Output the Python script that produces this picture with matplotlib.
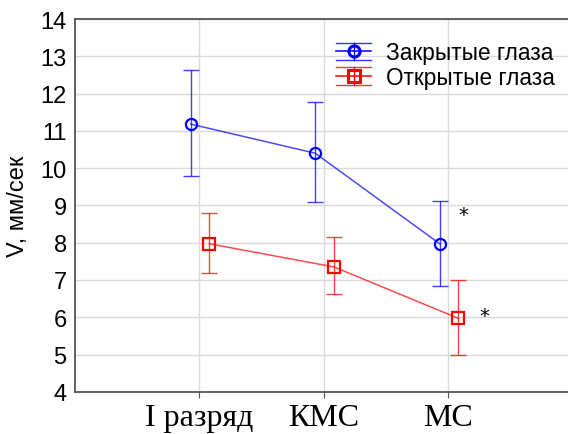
import numpy as np
import matplotlib.pyplot as plt
from matplotlib.legend_handler import HandlerBase
from matplotlib.lines import Line2D

groups = ['I разряд', 'КМС', 'МС']

closed_mean = [11.18, 10.4, 7.97]
closed_low = [9.8, 9.08, 6.85]
closed_high = [12.62, 11.78, 9.12]

open_mean = [7.97, 7.35, 5.97]
open_low = [7.18, 6.62, 5.0]
open_high = [8.8, 8.15, 7.0]

x = np.arange(1, len(groups) + 1)


class BarHandle:
    def __init__(self, color, marker, ms):
        self.color, self.marker, self.ms = color, marker, ms


class BarHandler(HandlerBase):
    # legend key: whisker caps drawn as full-width lines above/below the marker
    def create_artists(self, legend, h, xd, yd, width, height, fontsize, trans):
        c = h.color
        cy = yd + height / 2
        top, bot = cy + height * 0.55, cy - height * 0.55
        arts = [
            Line2D([xd, xd + width], [cy, cy], color=c, lw=1.1),
            Line2D([xd, xd + width], [top, top], color=c, lw=1.0, alpha=0.8),
            Line2D([xd, xd + width], [bot, bot], color=c, lw=1.0, alpha=0.8),
            Line2D([xd + width / 2] * 2, [bot, top], color=c, lw=1.0),
            Line2D([xd + width / 2], [cy], marker=h.marker, ms=h.ms, mfc='none',
                   mec=c, mew=2.2, ls='none'),
        ]
        for a in arts:
            a.set_transform(trans)
        return arts


fig = plt.figure(figsize=(5.68, 4.35), dpi=100)
ax = fig.add_axes([0.132, 0.097, 0.868, 0.857])


def draw(xs, mean, low, high, color, marker, ms):
    mean = np.array(mean)
    err = [mean - np.array(low), np.array(high) - mean]
    ax.plot(xs, mean, '-', color=color, alpha=0.7, lw=1.1)
    ax.errorbar(xs, mean, yerr=err, fmt='none', ecolor=color, alpha=0.75,
                elinewidth=1.0, capsize=6, capthick=1.0)
    ax.plot(xs, mean, marker, ms=ms, mfc='none', mec=color, mew=1.6, ls='none')


draw(x - 0.07, closed_mean, closed_low, closed_high, '#0000ff', 'o', 8)
draw(x + 0.08, open_mean, open_low, open_high, '#ff0000', 's', 9)

# significance marks
ax.text(x[2] + 0.12, 8.75, '*', fontsize=14, ha='center', va='center')
ax.text(x[2] + 0.29, 6.05, '*', fontsize=14, ha='center', va='center')

ax.set_xlim(0, 3.96)
ax.set_ylim(4, 14)
ax.set_yticks(range(4, 15))
ax.set_xticks(x)
ax.set_xticklabels(groups, fontsize=23, family='Liberation Serif')
ax.tick_params(axis='y', labelsize=17, length=0, pad=6)
ax.tick_params(axis='x', length=4, color='#555555', pad=4)
for lab in ax.get_yticklabels():
    lab.set_family('Liberation Sans')
ax.set_ylabel('V, мм/сек', fontsize=17, family='Liberation Sans', labelpad=8)

ax.grid(True, color='#d9d9d9', lw=1.0)
ax.set_axisbelow(True)
for s in ['left', 'top', 'bottom']:
    ax.spines[s].set_color('#555555')
    ax.spines[s].set_linewidth(1.3)
ax.spines['right'].set_visible(False)

ax.legend([BarHandle('#0000ff', 'o', 8), BarHandle('#ff0000', 's', 8)],
          ['Закрытые глаза', 'Открытые глаза'],
          handler_map={BarHandle: BarHandler()},
          loc='upper right', frameon=False,
          prop={'family': 'Liberation Sans', 'size': 16.3},
          handlelength=1.55, handletextpad=0.65, labelspacing=0.08,
          bbox_to_anchor=(1.015, 0.995))

fig.savefig('out.png', dpi=100)
